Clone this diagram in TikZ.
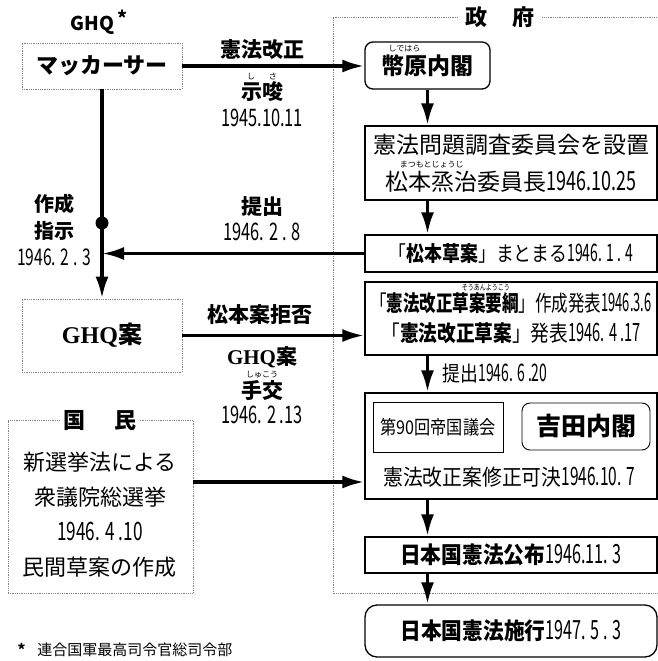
\documentclass[tikz,border=0pt]{standalone}
\usepackage{fontspec}
\setmainfont{Noto Sans CJK JP}
\newfontfamily\latinserif{Liberation Serif}
\usetikzlibrary{arrows.meta,calc}

% ruby over a word, narrow digits, squeezed line
\newcommand\furi[2]{\setbox0\hbox{#1}\leavevmode\rlap{\hbox to\wd0{\hss\raisebox{0.98em}[0pt][0pt]{\fontsize{8}{8}\selectfont\mdseries #2}\hss}}\box0}
\newcommand\nar[1]{\scalebox{0.78}[1.15]{#1}}
\newcommand\sqz[2][0.85]{\scalebox{#1}[1]{#2}}

\begin{document}
\begin{tikzpicture}[x=1pt,y=-1pt,
	arr/.style={line width=3.5pt,-{Latex[length=22pt,width=13pt]}},
	govbox/.style={draw,line width=1.3pt,minimum width=292pt,inner sep=0pt},
	softbox/.style={draw=gray,densely dotted,line width=0.8pt,inner sep=0pt},
	govframe/.style={gray,densely dotted,line width=0.8pt},
	lbl/.style={font=\fontsize{21}{24}\selectfont},
	blbl/.style={font=\bfseries\fontsize{21}{24}\selectfont}]
	
	\useasboundingbox (0,0) rectangle (658,661);
	
	% GHQ side
	\node[font=\bfseries\fontsize{19}{20}\selectfont] (ghq) at (99,22) {GHQ\,\raisebox{0.25em}{*}};
	\node[softbox,minimum width=160pt,minimum height=46pt,font=\bfseries\fontsize{22}{24}\selectfont] (mac) at (102,66) {マッカーサー};
	\node[softbox,minimum width=160pt,minimum height=73pt,font=\bfseries\fontsize{24}{26}\selectfont] (ghqan) at (102,335.5) {{\latinserif GHQ}案};
	\coordinate (dot) at (102,223);
	\node[align=center,font=\fontsize{20}{27}\selectfont] (sakusei) at (54,230) {\textbf{作成}\\\textbf{指示}\\\nar{1946. 2 . 3}};
	
	% The government frame
	\node[font=\bfseries\fontsize{22}{24}\selectfont,fill=white,inner xsep=8pt] (seifu) at (500,17) {政\hspace{1.1em}府};
	\draw[govframe] (seifu.west) -- (333,17) -- (333,593) -- (658,593);
	\draw[govframe] (seifu.east) -- (658,17);
	
	% Steps of the government
	\node[govbox,rounded corners=8pt,minimum width=125pt,minimum height=47pt,font=\bfseries\fontsize{23}{25}\selectfont] (shide) at (427.5,65.5) {\furi{幣原}{しではら}内閣};
	\node[govbox,minimum height=74pt,align=center,font=\fontsize{23}{37}\selectfont] (iinkai) at (511,163) {憲法問題調査委員会を設置\\\furi{松本烝治}{まつもとじょうじ}委員長\nar{1946.10.25}};
	\node[govbox,minimum height=37pt,font=\fontsize{21}{24}\selectfont] (soan) at (511,253.5) {\sqz{「\textbf{松本草案}」まとまる\nar{1946. 1 . 4}}};
	\node[govbox,minimum height=73pt,align=center,font=\fontsize{22}{30}\selectfont] (youkou) at (511,318.5) {\sqz[0.75]{「\textbf{憲法改正\furi{草案要綱}{そうあんようこう}}」作成発表\nar{1946.3.6}}\\\sqz[0.85]{「\textbf{憲法改正草案}」発表\nar{1946. 4 .17}}};
	\node[govbox,minimum height=106pt] (gikai) at (511,446) {};
	\node[draw,line width=0.9pt,minimum width=130pt,minimum height=50pt,inner sep=0pt,font=\fontsize{19}{20}\selectfont] (teikoku) at (438,427) {\sqz{第90回帝国議会}};
	\node[draw,line width=0.9pt,rounded corners=8pt,minimum width=128pt,minimum height=47pt,inner sep=0pt,font=\bfseries\fontsize{25}{26}\selectfont] (yoshida) at (586,426.5) {吉田内閣};
	\node[font=\fontsize{22}{24}\selectfont] (kaketsu) at (509,477) {\sqz[0.9]{憲法改正案修正可決\nar{1946.10. 7}}};
	\node[govbox,minimum height=36pt,font=\fontsize{23}{24}\selectfont] (kofu) at (511,555) {\sqz[0.9]{\textbf{日本国憲法公布}\nar{1946.11. 3}}};
	\node[govbox,rounded corners=12pt,minimum height=52pt,font=\fontsize{23}{24}\selectfont] (shiko) at (511,631) {\sqz[0.9]{\textbf{日本国憲法施行}\nar{1947. 5 . 3}}};
	
	% The people
	\node[softbox,minimum width=185pt,minimum height=173pt] (kokumin) at (100.5,506.5) {};
	\node[fill=white,font=\bfseries\fontsize{22}{24}\selectfont] (kmtitle) at (100,421) {国\hspace{1.3em}民};
	\node[align=center,font=\fontsize{22}{35}\selectfont] (senkyo) at (100,515) {新選挙法による\\衆議院総選挙\\\nar{1946. 4 .10}\\民間草案の作成};
	
	% Labels between the columns
	\node[blbl] (kaisei) at (262,50) {憲法改正};
	\node[blbl] (shisa) at (262,92) {\furi{示唆}{し\hspace{14pt}さ}};
	\node[lbl] (day1) at (262,118) {\nar{1945.10.11}};
	\node[blbl] (teishutsu) at (262,207) {提出};
	\node[lbl] (day2) at (262,232) {\nar{1946. 2 . 8}};
	\node[blbl] (kyohi) at (260,315) {松本案拒否};
	\node[blbl] (ghqan2) at (262,357) {{\latinserif GHQ}案};
	\node[blbl] (shukou) at (262,390) {\furi{手交}{しゅこう}};
	\node[lbl] (day3) at (262,415) {\nar{1946. 2 .13}};
	
	% Connectors
	\draw[arr] (mac.east) -- (mac.east -| shide.west);
	\draw[arr] (mac.south) -- (ghqan.north);
	\fill (dot) circle (6.5pt);
	\draw[arr] (soan.west) -- (soan.west -| dot);
	\draw[arr] (ghqan.east) -- (ghqan.east -| youkou.west);
	\draw[arr] ([yshift=24.5pt]kokumin.east) coordinate (k) -- (k -| gikai.west);
	\draw[arr] (shide.south) -- (shide.south |- iinkai.north);
	\draw[arr] (shide.south |- iinkai.south) -- (shide.south |- soan.north);
	\draw[arr] (shide.south |- youkou.south) -- (shide.south |- gikai.north)
		node[midway,right=10pt,lbl] (teishutsu2) {\sqz{提出\nar{1946. 6 .20}}};
	\draw[arr] (shide.south |- gikai.south) -- (shide.south |- kofu.north);
	\draw[arr] (shide.south |- kofu.south) -- (shide.south |- shiko.north);
	
	% Footnote
	\node[anchor=west,font=\fontsize{15}{16}\selectfont] (note) at (14,650) {\textbf{*}\hspace{0.8em}連合国軍最高司令官総司令部};
	
\end{tikzpicture}
\end{document}
